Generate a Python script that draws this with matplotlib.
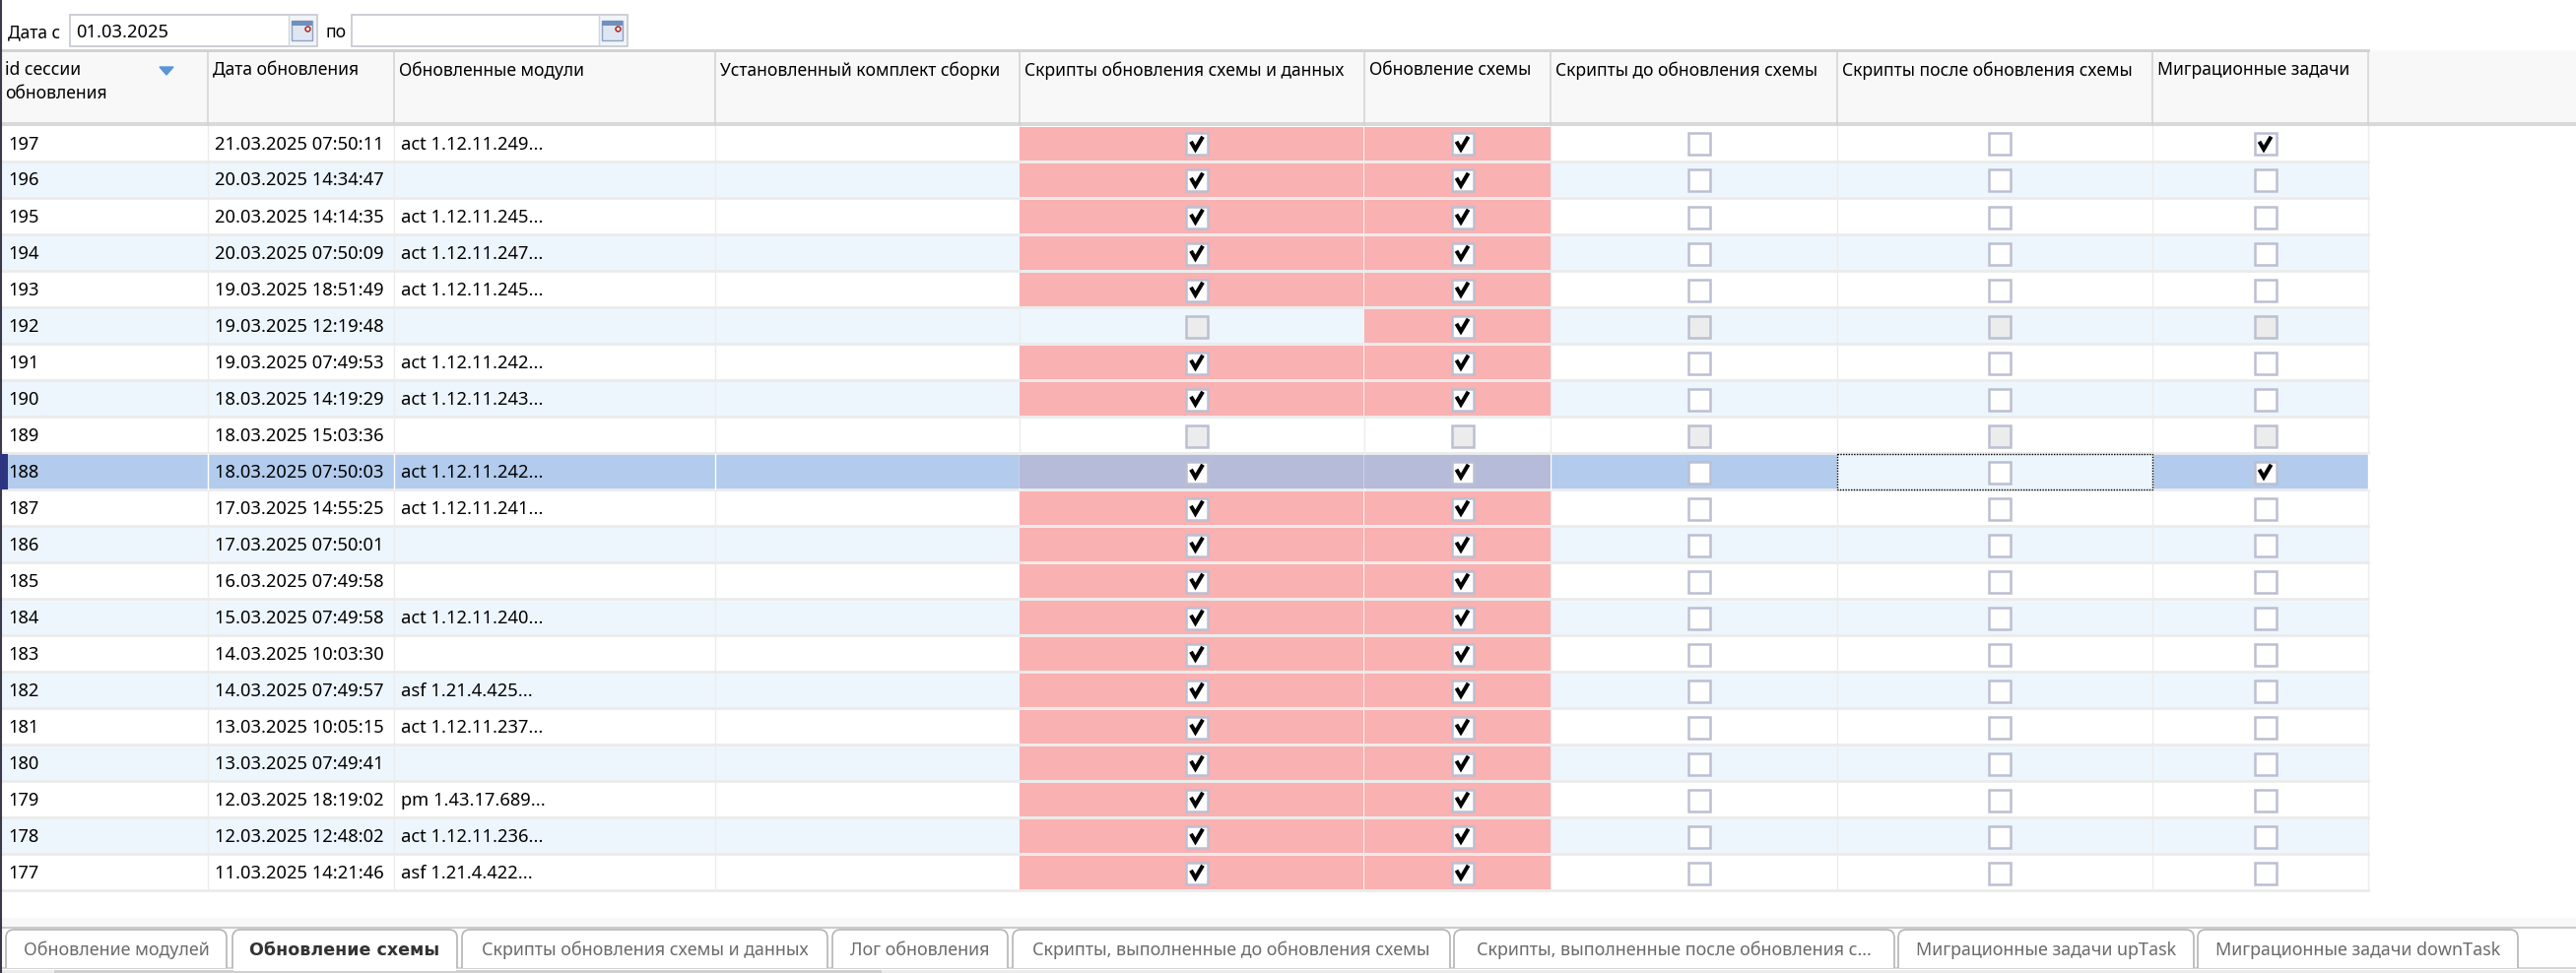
import matplotlib
matplotlib.use('Agg')
import matplotlib.pyplot as plt
from matplotlib.patches import Rectangle, PathPatch
from matplotlib.path import Path

W, H = 2615, 988

# table data
session_ids = [197, 196, 195, 194, 193, 192, 191, 190, 189, 188, 187,
               186, 185, 184, 183, 182, 181, 180, 179, 178, 177]
update_dates = ['21.03.2025 07:50:11', '20.03.2025 14:34:47', '20.03.2025 14:14:35',
                '20.03.2025 07:50:09', '19.03.2025 18:51:49', '19.03.2025 12:19:48',
                '19.03.2025 07:49:53', '18.03.2025 14:19:29', '18.03.2025 15:03:36',
                '18.03.2025 07:50:03', '17.03.2025 14:55:25', '17.03.2025 07:50:01',
                '16.03.2025 07:49:58', '15.03.2025 07:49:58', '14.03.2025 10:03:30',
                '14.03.2025 07:49:57', '13.03.2025 10:05:15', '13.03.2025 07:49:41',
                '12.03.2025 18:19:02', '12.03.2025 12:48:02', '11.03.2025 14:21:46']
modules = ['act 1.12.11.249...', '', 'act 1.12.11.245...', 'act 1.12.11.247...',
           'act 1.12.11.245...', '', 'act 1.12.11.242...', 'act 1.12.11.243...', '',
           'act 1.12.11.242...', 'act 1.12.11.241...', '', '', 'act 1.12.11.240...', '',
           'asf 1.21.4.425...', 'act 1.12.11.237...', '', 'pm 1.43.17.689...',
           'act 1.12.11.236...', 'asf 1.21.4.422...']
# 1 checked, 0 empty, -1 disabled
scripts_flag = [1, 1, 1, 1, 1, -1, 1, 1, -1, 1, 1, 1, 1, 1, 1, 1, 1, 1, 1, 1, 1]
schema_flag = [1, 1, 1, 1, 1, 1, 1, 1, -1, 1, 1, 1, 1, 1, 1, 1, 1, 1, 1, 1, 1]
before_flag = [0, 0, 0, 0, 0, -1, 0, 0, -1, 0, 0, 0, 0, 0, 0, 0, 0, 0, 0, 0, 0]
after_flag = [0, 0, 0, 0, 0, -1, 0, 0, -1, 0, 0, 0, 0, 0, 0, 0, 0, 0, 0, 0, 0]
migration_flag = [1, 0, 0, 0, 0, -1, 0, 0, -1, 1, 0, 0, 0, 0, 0, 0, 0, 0, 0, 0, 0]

headers = ['id сессии\nобновления', 'Дата обновления', 'Обновленные модули',
           'Установленный комплект сборки', 'Скрипты обновления схемы и данных',
           'Обновление схемы', 'Скрипты до обновления схемы',
           'Скрипты после обновления схемы', 'Миграционные задачи']
tab_labels = ['Обновление модулей', 'Обновление схемы', 'Скрипты обновления схемы и данных',
              'Лог обновления', 'Скрипты, выполненные до обновления схемы',
              'Скрипты, выполненные после обновления с...', 'Миграционные задачи upTask',
              'Миграционные задачи downTask']

# layout in pixels
col_edges = [0, 211, 400, 726, 1035, 1385, 1574, 1865, 2185, 2404]
tab_edges = [(6, 230), (236, 464), (469, 840), (845, 1023), (1028, 1472),
             (1476, 1923), (1927, 2227), (2231, 2556)]
head_top, head_bottom, row_h = 51, 127, 37
selected = 9
focus_col = 7

plt.rcParams['font.family'] = ['Noto Sans', 'DejaVu Sans']
HEAD_FS = 12.6
ROW_FS = 13.2
TAB_FS = 12.9

fig = plt.figure(figsize=(W / 100, H / 100), dpi=100)
ax = fig.add_axes([0, 0, 1, 1])
ax.set_xlim(0, W)
ax.set_ylim(H, 0)
ax.axis('off')


def rect(x0, y0, x1, y1, color, z=1, edge='none', lw=0):
    ax.add_patch(Rectangle((x0, y0), x1 - x0, y1 - y0, facecolor=color, edgecolor=edge,
                           linewidth=lw, zorder=z))


def label(x, y, s, fs, color='black', ha='left', **kw):
    ax.text(x, y, s, color=color, fontsize=fs, ha=ha, va='center', zorder=6, **kw)


def date_box(x0, x1):
    rect(x0, 15, x1, 47, 'white', 2, '#c3c7d0', 1.2)
    rect(x1 - 29, 16, x1 - 1, 46, '#f2f4f8', 2)
    ax.plot([x1 - 29, x1 - 29], [16, 46], color='#d0d4dc', lw=1, zorder=3)
    rect(x1 - 26, 21, x1 - 5, 41, '#dfe6f2', 3, '#8da3c6', 1)
    rect(x1 - 26, 21, x1 - 5, 26, '#6f8fbd', 4)
    ax.plot([x1 - 10], [29], 'o', ms=3.5, mfc='white', mec='#b03030', mew=1.2, zorder=5)


def checkbox(cx, cy, state):
    face = '#ececec' if state == -1 else 'white'
    rect(cx - 11, cy - 11, cx + 11, cy + 11, face, 4, '#bcbfd2', 1.8)
    if state == 1:
        ax.plot([cx - 5, cx - 1.5, cx + 5], [cy - 1, cy + 5, cy - 6], color='black', lw=2.9,
                solid_joinstyle='miter', zorder=5)


# filter bar
ax.plot([1, 1], [0, H], color='#3a3a4a', lw=1.5, zorder=7)
label(8, 33, 'Дата с', HEAD_FS)
date_box(71, 322)
label(77, 33, '01.03.2025', ROW_FS)
label(330, 33, 'по', HEAD_FS)
date_box(357, 637)

# header
rect(2, head_top, W, head_bottom, '#f8f8f8')
rect(2, head_bottom - 3, W, head_bottom + 1, '#d9d9d9', 2)
ax.plot([2, 2404], [head_top, head_top], color='#cfcfcf', lw=2, zorder=3)
for x in col_edges[1:]:
    ax.plot([x, x], [head_top, head_bottom], color='#d4d4d4', lw=1.2, zorder=3)
for i, h in enumerate(headers):
    lines = h.split('\n')
    for k, s in enumerate(lines):
        label(col_edges[i] + 5, 71.5 + 23 * k, s, HEAD_FS)
ax.fill([162, 176, 169], [68, 68, 76], color='#5b95d8', zorder=5)

# rows
flag_cols = {4: scripts_flag, 5: schema_flag, 6: before_flag, 7: after_flag, 8: migration_flag}
for r, sid in enumerate(session_ids):
    y0 = head_bottom + r * row_h
    y1 = y0 + row_h
    cy = y0 + 19.5
    bg = '#b3cbec' if r == selected else ('#eef6fd' if r % 2 else 'white')
    rect(2, y0 + 1, col_edges[-1], y1, bg)
    ax.plot([2, col_edges[-1]], [y1, y1], color='#ebebeb', lw=2, zorder=2)
    for x in col_edges[1:]:
        ax.plot([x, x], [y0 + 1, y1], color='white' if r == selected else '#ececec', lw=1, zorder=2)
    label(8, cy, str(sid), ROW_FS)
    label(218, cy, update_dates[r], ROW_FS)
    label(407, cy, modules[r], ROW_FS)
    for c, flags in flag_cols.items():
        x0, x1 = col_edges[c], col_edges[c + 1]
        if c in (4, 5) and flags[r] == 1:
            rect(x0, y0 + 2, x1 - (1 if c == 4 else 0), y1 - 1,
                 '#b6bbd9' if r == selected else '#fab1b1', 2)
        if r == selected and c == focus_col:
            rect(x0, y0 + 1, x1, y1, '#eef6fd', 3, 'black', 1)
            ax.patches[-1].set_linestyle((0, (1, 1)))
        checkbox((x0 + x1) / 2 + 5, cy, flags[r])
rect(0, head_bottom + selected * row_h + 1, 8, head_bottom + (selected + 1) * row_h, '#2e3480', 8)

# tabs
rect(2, 932, W, 941, '#f8f8f8')
ax.plot([2, W], [941.5, 941.5], color='#cbcbcb', lw=1.5, zorder=2)
rect(2, 982, W, 984, '#d4d4d4', 1)
rect(2, 985, W, H, '#ececec', 1)
rect(55, 985, 895, H, '#d0d0d0', 1)
for i, (x0, x1) in enumerate(tab_edges):
    top, bot, rad = 944, 983, 8
    verts = [(x0, bot), (x0, top + rad), (x0, top), (x0 + rad, top), (x1 - rad, top),
             (x1, top), (x1, top + rad), (x1, bot)]
    codes = [Path.MOVETO, Path.LINETO, Path.CURVE3, Path.CURVE3, Path.LINETO,
             Path.CURVE3, Path.CURVE3, Path.LINETO]
    ax.add_patch(PathPatch(Path(verts, codes), facecolor='white', edgecolor='#b5b5b5',
                           linewidth=1.2, zorder=3))
    if i == 1:
        rect(x0 + 1, 980, x1 - 1, 986, 'white', 4)
        label((x0 + x1) / 2, 964.5, tab_labels[i], 12.6, color='#333333', ha='center',
              family='DejaVu Sans', weight='bold')
    else:
        label((x0 + x1) / 2, 964.5, tab_labels[i], TAB_FS, color='#6b6b6b', ha='center')

fig.savefig('out.png', dpi=100)
